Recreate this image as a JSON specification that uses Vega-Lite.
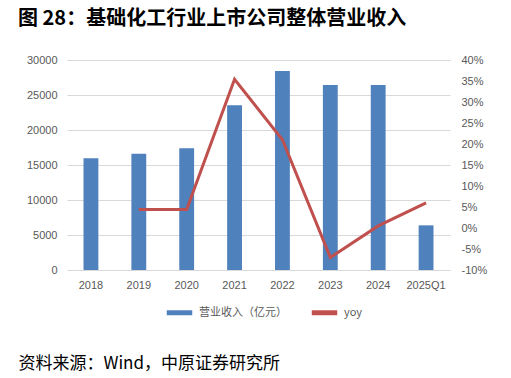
{
  "$schema": "https://vega.github.io/schema/vega-lite/v6.json",
  "width": 383,
  "height": 210,
  "autosize": {"type": "none"},
  "padding": {"left": 67, "top": 60, "right": 61, "bottom": 108},
  "background": "white",
  "title": {
    "text": "图 28：基础化工行业上市公司整体营业收入",
    "anchor": "start",
    "frame": "group",
    "dx": -49,
    "offset": 25,
    "fontSize": 20,
    "font": "Noto Sans CJK SC",
    "fontWeight": "bold",
    "color": "#000000"
  },
  "config": {
    "view": {"stroke": null},
    "axis": {
      "labelFont": "Liberation Sans",
      "labelColor": "#595959",
      "labelFontSize": 11,
      "ticks": false,
      "domain": false
    }
  },
  "data": {
    "values": [
      {"period": "2018", "revenue": 15960, "yoy": null},
      {"period": "2019", "revenue": 16620, "yoy": 4.4},
      {"period": "2020", "revenue": 17380, "yoy": 4.4},
      {"period": "2021", "revenue": 23520, "yoy": 35.4},
      {"period": "2022", "revenue": 28430, "yoy": 21.0},
      {"period": "2023", "revenue": 26430, "yoy": -7.0},
      {"period": "2024", "revenue": 26430, "yoy": 0.5},
      {"period": "2025Q1", "revenue": 6380, "yoy": 6.0}
    ]
  },
  "encoding": {
    "x": {
      "field": "period",
      "type": "ordinal",
      "sort": null,
      "scale": {"paddingInner": 0.69, "paddingOuter": 0.345},
      "axis": {
        "labelAngle": 0,
        "labelPadding": 9,
        "title": "资料来源：Wind，中原证券研究所",
        "titleFont": "Noto Sans CJK SC",
        "titleFontSize": 17,
        "titleFontWeight": "normal",
        "titleColor": "#000000",
        "titleAnchor": "start",
        "titleAlign": "left",
        "titleBaseline": "alphabetic",
        "titleX": -49,
        "titleY": 98,
        "grid": false
      }
    }
  },
  "layer": [
    {
      "mark": {"type": "bar", "color": "#4F81BD"},
      "encoding": {
        "y": {
          "field": "revenue",
          "type": "quantitative",
          "scale": {"domain": [0, 30000], "nice": false},
          "axis": {
            "title": null,
            "values": [0, 5000, 10000, 15000, 20000, 25000, 30000],
            "format": "d",
            "labelPadding": 10,
            "grid": true,
            "gridColor": "#D9D9D9",
            "gridWidth": 1
          }
        },
        "color": {
          "datum": "营业收入（亿元）",
          "type": "nominal",
          "scale": {"domain": ["营业收入（亿元）", "yoy"], "range": ["#4F81BD", "#C0504D"]},
          "legend": {
            "title": null,
            "orient": "none",
            "direction": "horizontal",
            "legendX": 97,
            "legendY": 237,
            "symbolType": "stroke",
            "symbolStrokeWidth": 5,
            "symbolSize": 650,
            "labelFont": "Noto Sans CJK SC",
            "labelFontSize": 11,
            "labelColor": "#595959",
            "labelOffset": 4,
            "columnPadding": 14
          }
        }
      }
    },
    {
      "mark": {"type": "line", "color": "#C0504D", "strokeWidth": 3},
      "encoding": {
        "y": {
          "field": "yoy",
          "type": "quantitative",
          "scale": {"domain": [-10, 40], "nice": false},
          "axis": {
            "title": null,
            "orient": "right",
            "values": [-10, -5, 0, 5, 10, 15, 20, 25, 30, 35, 40],
            "labelExpr": "datum.value + '%'",
            "labelPadding": 11,
            "grid": false
          }
        },
        "color": {"datum": "yoy", "type": "nominal"}
      }
    }
  ],
  "resolve": {"scale": {"y": "independent"}}
}
